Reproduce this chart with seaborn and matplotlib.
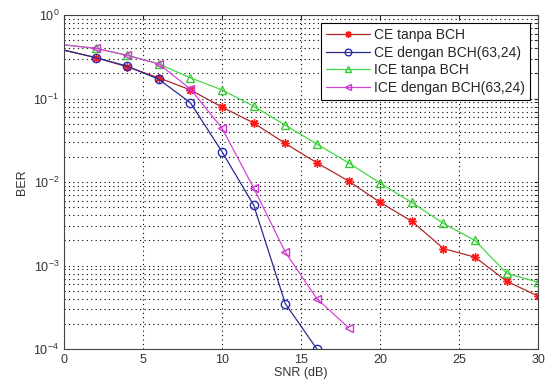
import matplotlib
matplotlib.use("Agg")
import matplotlib.pyplot as plt
import pandas as pd
import seaborn as sns

snr_ce = [0, 2, 4, 6, 8, 10, 12, 14, 16, 18, 20, 22, 24, 26, 28, 30]
ber_ce = [0.38, 0.31, 0.24, 0.177, 0.127, 0.079, 0.051, 0.029, 0.017, 0.0103,
          0.0057, 0.0034, 0.0016, 0.00126, 0.00065, 0.00043]

snr_ce_bch = [0, 2, 4, 6, 8, 10, 12, 14, 16]
ber_ce_bch = [0.38, 0.31, 0.245, 0.17, 0.089, 0.023, 0.0053, 0.00035, 0.0001]

snr_ice = [0, 2, 4, 6, 8, 10, 12, 14, 16, 18, 20, 22, 24, 26, 28, 30]
ber_ice = [0.44, 0.40, 0.33, 0.26, 0.177, 0.127, 0.081, 0.048, 0.0285, 0.017,
           0.0097, 0.0057, 0.0032, 0.0020, 0.00081, 0.00063]

snr_ice_bch = [0, 2, 4, 6, 8, 10, 12, 14, 16, 18]
ber_ice_bch = [0.44, 0.40, 0.33, 0.26, 0.13, 0.044, 0.0085, 0.00145, 0.0004, 0.00018]

labels = ["CE tanpa BCH", "CE dengan BCH(63,24)", "ICE tanpa BCH", "ICE dengan BCH(63,24)"]
line_colors = ["#b02828", "#2b2b8c", "#44d844", "#d844d8"]
marker_colors = ["#ff1a1a", "#2a2ab8", "#33cc33", "#cc33cc"]
markers = [(8, 2, 0), "o", "^", "<"]

sns.set_style("white")
plt.rcParams["font.family"] = ["Liberation Sans", "DejaVu Sans"]

fig = plt.figure(figsize=(5.47, 3.87), dpi=100)
ax = fig.add_axes([0.117, 0.098, 0.867, 0.863])

series = [(snr_ce, ber_ce), (snr_ce_bch, ber_ce_bch), (snr_ice, ber_ice), (snr_ice_bch, ber_ice_bch)]
for (x, y), lab, lc, mc, m in zip(series, labels, line_colors, marker_colors, markers):
    df = pd.DataFrame({"SNR": x, "BER": y})
    sns.lineplot(data=df, x="SNR", y="BER", ax=ax, color=lc, marker=m, label=lab,
                 markersize=6, markerfacecolor="none", markeredgecolor=mc,
                 markeredgewidth=1.0, linewidth=0.9, markevery=slice(1, None))

ax.set_yscale("log")
ax.set_xlim(0, 30)
ax.set_ylim(1e-4, 1)
ax.set_xticks([0, 5, 10, 15, 20, 25, 30])
ax.set_yticks([1e-4, 1e-3, 1e-2, 1e-1, 1])
ax.grid(True, which="major", color="black", linestyle=(0, (1, 3)), linewidth=0.8)
ax.grid(True, which="minor", axis="y", color="black", linestyle=(0, (1, 3)), linewidth=0.8)
ax.set_xlabel("SNR (dB)", fontsize=9, labelpad=1, color="#333333")
ax.set_ylabel("BER", fontsize=9, color="#333333")
ax.tick_params(labelsize=9, direction="in", length=3, which="both", top=True, right=True,
               labelcolor="#333333")
for s in ax.spines.values():
    s.set_color("#444444")
    s.set_linewidth(0.8)

leg = ax.legend(loc="upper right", fontsize=10, frameon=True, fancybox=False,
                edgecolor="black", borderaxespad=0.6, handlelength=3.2,
                markerscale=0.8, labelspacing=0.25, borderpad=0.35, handletextpad=0.3)
leg.get_frame().set_linewidth(0.8)
leg.get_frame().set_alpha(1)

fig.savefig("out.png", dpi=100)
